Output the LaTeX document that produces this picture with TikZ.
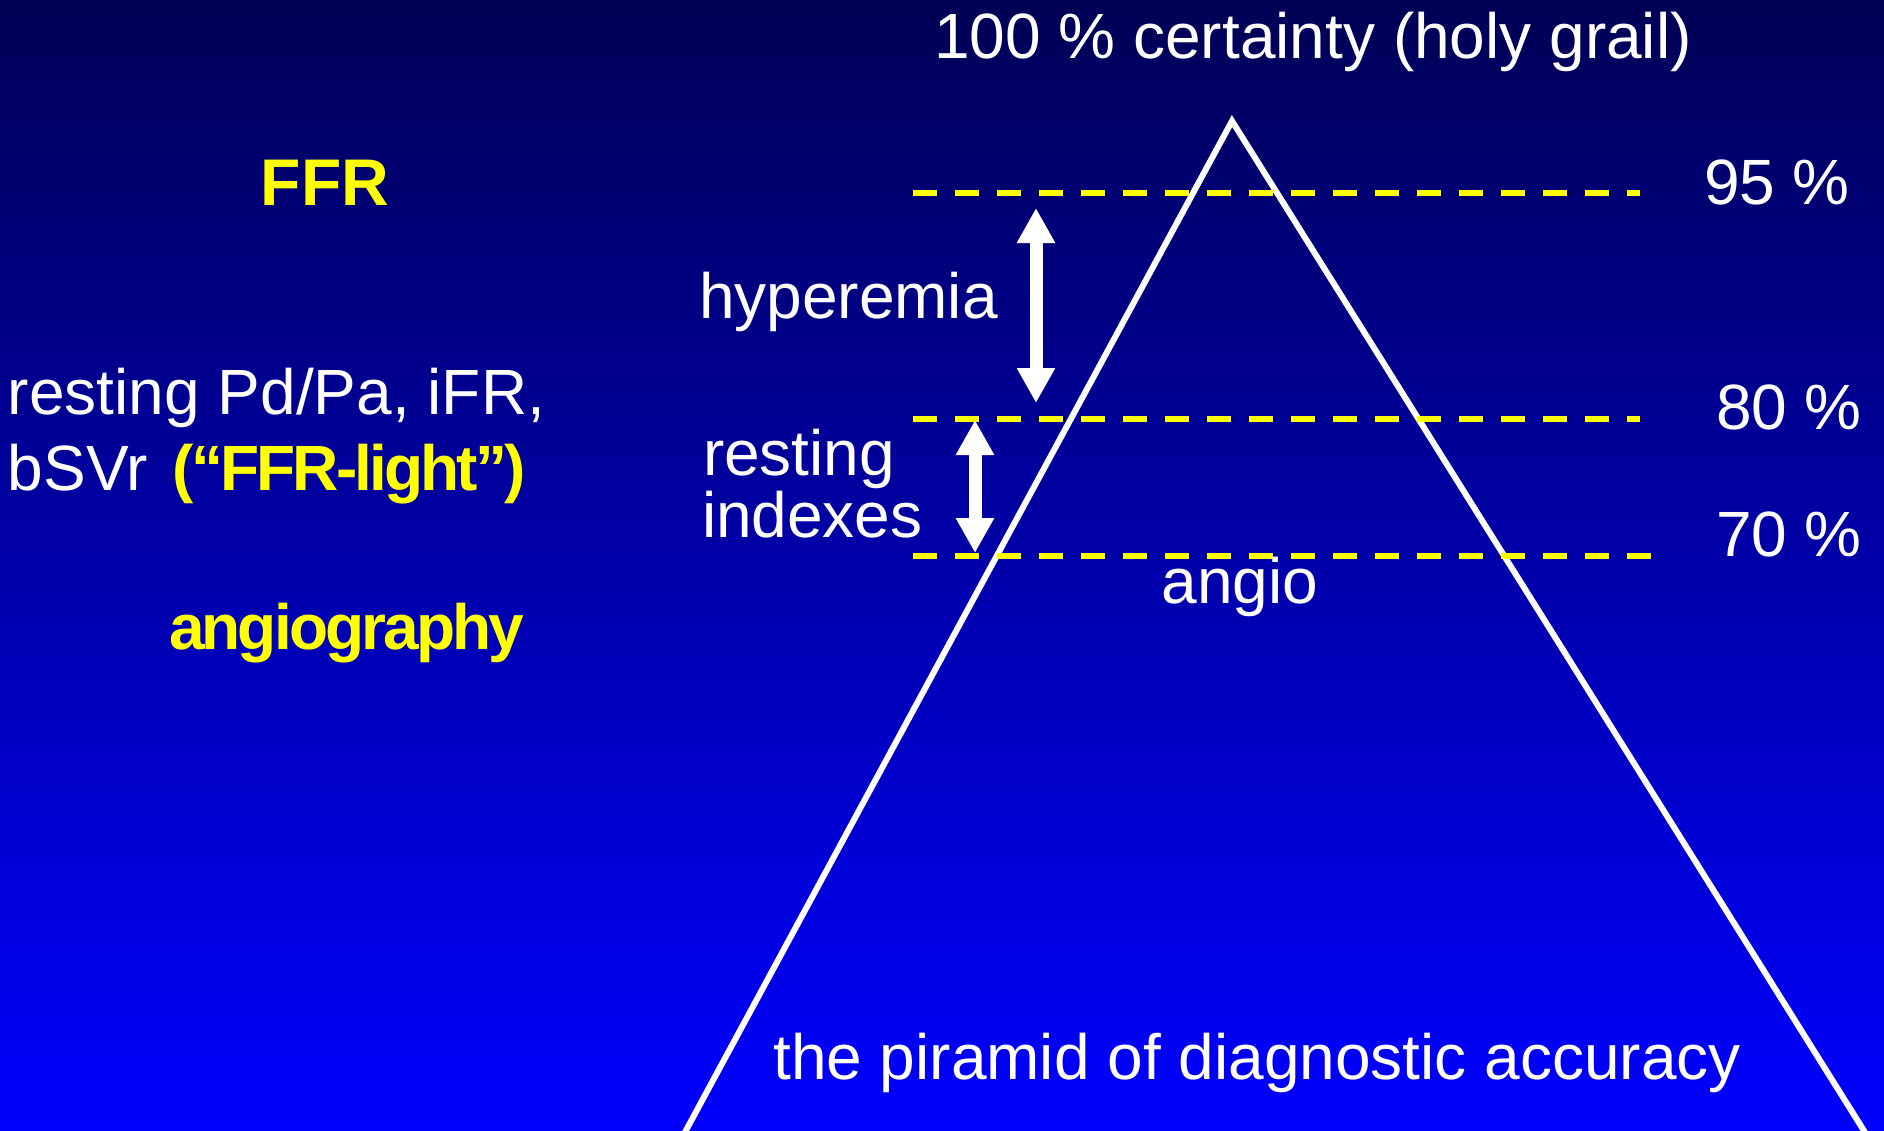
\documentclass[tikz,border=0pt]{standalone}
\usepackage{fontspec}
\setmainfont{Liberation Sans}
\newfontfamily\tightfont[LetterSpace=-4.5]{Liberation Sans}
\usetikzlibrary{arrows.meta}
\definecolor{bgtop}{RGB}{0,0,85}
\definecolor{bgmid}{RGB}{0,0,195}
\definecolor{bgbot}{RGB}{0,0,255}
\definecolor{lvlyellow}{RGB}{255,255,0}
\begin{document}
\begin{tikzpicture}[x=1pt,y=-1pt,
  lbl/.style={inner sep=0pt, outer sep=0pt, text=white, font=\fontsize{64}{77}\selectfont},
  ylbl/.style={inner sep=0pt, outer sep=0pt, text=lvlyellow, font=\fontsize{64}{77}\selectfont\tightfont\bfseries},
  ffrlbl/.style={inner sep=0pt, outer sep=0pt, text=lvlyellow, font=\fontsize{66}{77}\selectfont\bfseries},
  level/.style={lvlyellow, line width=5.5pt, dash pattern=on 24pt off 18pt},
  dblarrow/.style={white, line width=13pt, {Triangle[length=35pt,width=36pt]}-{Triangle[length=35pt,width=36pt]}},
  pyr/.style={white, line width=6pt, line join=miter}
]
\useasboundingbox (0,0) rectangle (1884,1130);
\shade[top color=bgtop, middle color=bgmid, bottom color=bgbot] (0,0) rectangle (1884,1130);

% pyramid
\coordinate (apex) at (1232,121);
\coordinate (bl) at (684,1134);
\coordinate (br) at (1866,1134);
\draw[pyr] (bl) -- (apex) -- (br) -- cycle;

% levels
\coordinate (l95a) at (913,193);
\coordinate (l95b) at (1640,193);
\coordinate (l80a) at (913,419);
\coordinate (l80b) at (1640,419);
\coordinate (l70a) at (913,556);
\coordinate (l70b) at (1653,556);
\draw[level] (l95a) -- (l95b);
\draw[level] (l80a) -- (l80b);
\draw[level] (l70a) -- (l70b);

% arrows
\coordinate (h1) at (1036,208);
\coordinate (h2) at (1036,403);
\coordinate (r1) at (975,420);
\coordinate (r2) at (975,553);
\draw[dblarrow] (h1) -- (h2);
\draw[dblarrow] (r1) -- (r2);

% texts
\node[lbl, anchor=base] (title) at (1313,58) {100 \% certainty (holy grail)};
\node[ffrlbl, anchor=base] (ffr) at (325,205) {FFR};
\node[lbl, anchor=base west] (p95) at (1704,204) {95 \%};
\node[lbl, anchor=base west] (p80) at (1716,429) {80 \%};
\node[lbl, anchor=base west] (p70) at (1716,556) {70 \%};
\node[lbl, anchor=base west] (hyp) at (699,318) {hyperemia};
\node[lbl, anchor=base west] (rest1) at (703,475) {resting};
\node[lbl, anchor=base west] (rest2) at (702,537) {indexes};
\node[lbl, anchor=base west] (left1) at (8,414) {resting Pd/Pa, iFR,};
\node[lbl, anchor=base west] (left2) at (8,490) {bSVr\kern7pt{} \textcolor{lvlyellow}{\tightfont\bfseries(“FFR-light”)}};
\node[lbl, anchor=base] (angio) at (1240,603) {angio};
\node[ylbl, anchor=base west] (angiog) at (169,649) {angiography};
\node[lbl, anchor=base] (caption) at (1257,1079) {the piramid of diagnostic accuracy};
\end{tikzpicture}
\end{document}
